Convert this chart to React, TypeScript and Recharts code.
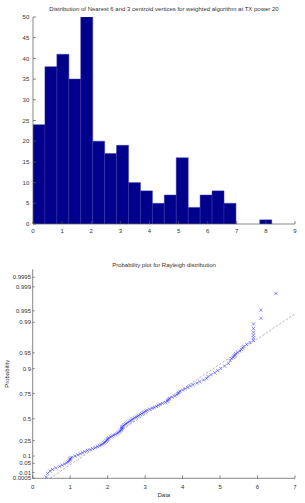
import React from 'react';
import { ComposedChart, Bar, XAxis, YAxis, Scatter, Line } from 'recharts';

// ---------- Histogram data ----------
const binCenters = [0.205, 0.615, 1.025, 1.435, 1.845, 2.255, 2.665, 3.075, 3.485, 3.895, 4.305, 4.715, 5.125, 5.535, 5.945, 6.355, 6.765, 7.175, 7.585, 7.995];
const binCounts = [24, 38, 41, 35, 50, 20, 17, 19, 10, 8, 5, 7, 16, 4, 7, 8, 5, 0, 0, 1];
const histXTicks = [0, 1, 2, 3, 4, 5, 6, 7, 8, 9];
const histYTicks = [0, 5, 10, 15, 20, 25, 30, 35, 40, 45, 50];

// ---------- Probability plot data ----------
const probX = [
  0.36, 0.40, 0.46, 0.53, 0.62, 0.72, 0.79, 0.85, 0.90, 0.94, 0.97, 0.99, 1.00, 1.01, 1.04,
  1.13, 1.21, 1.27, 1.33, 1.39, 1.46, 1.53, 1.60, 1.67, 1.73, 1.79, 1.83, 1.87, 1.90, 1.93,
  1.96, 1.98, 2.00, 2.01, 2.03, 2.08, 2.12, 2.16, 2.20, 2.25, 2.28, 2.31, 2.33, 2.35, 2.37,
  2.38, 2.38, 2.39, 2.40, 2.43, 2.46, 2.49, 2.52, 2.56, 2.59, 2.62, 2.65, 2.68, 2.72, 2.76,
  2.80, 2.83, 2.87, 2.91, 2.95, 2.98, 3.02, 3.06, 3.12, 3.18, 3.24, 3.30, 3.35, 3.40, 3.46,
  3.54, 3.59, 3.61, 3.63, 3.65, 3.72, 3.79, 3.84, 3.88, 3.90, 3.93, 4.00, 4.07, 4.14, 4.21,
  4.28, 4.38, 4.46, 4.56, 4.64, 4.68, 4.76, 4.86, 4.94, 5.02, 5.12, 5.22, 5.27, 5.31, 5.35,
  5.38, 5.40, 5.42, 5.47, 5.53, 5.57, 5.60, 5.63, 5.71, 5.80, 5.89, 5.89, 5.89, 5.89, 5.89,
  5.89, 6.09, 6.09, 6.49,
];
const probP = [
  0.0016, 0.0079, 0.0143, 0.0206, 0.0270, 0.0333, 0.0397, 0.0460, 0.0524, 0.0587, 0.0651, 0.0714, 0.0778, 0.0841, 0.0905,
  0.1000, 0.1095, 0.1190, 0.1286, 0.1381, 0.1476, 0.1571, 0.1667, 0.1762, 0.1857, 0.1952, 0.2048, 0.2143, 0.2238, 0.2333,
  0.2429, 0.2524, 0.2619, 0.2714, 0.2810, 0.2905, 0.3000, 0.3095, 0.3190, 0.3286, 0.3381, 0.3476, 0.3571, 0.3667, 0.3762,
  0.3857, 0.3952, 0.4048, 0.4143, 0.4238, 0.4333, 0.4429, 0.4524, 0.4619, 0.4714, 0.4810, 0.4905, 0.5000, 0.5095, 0.5190,
  0.5286, 0.5381, 0.5476, 0.5571, 0.5667, 0.5762, 0.5857, 0.5952, 0.6048, 0.6143, 0.6238, 0.6333, 0.6429, 0.6524, 0.6619,
  0.6714, 0.6810, 0.6905, 0.7000, 0.7095, 0.7190, 0.7286, 0.7381, 0.7476, 0.7571, 0.7667, 0.7762, 0.7857, 0.7952, 0.8048,
  0.8143, 0.8238, 0.8333, 0.8429, 0.8524, 0.8619, 0.8714, 0.8810, 0.8905, 0.9000, 0.9095, 0.9190, 0.9286, 0.9349, 0.9381,
  0.9413, 0.9444, 0.9476, 0.9508, 0.9540, 0.9571, 0.9603, 0.9635, 0.9667, 0.9698, 0.9730, 0.9762, 0.9794, 0.9825, 0.9857,
  0.9889, 0.9921, 0.9952, 0.9984,
];
const refLineX = [0.46, 7];
const refLineP = [0.0005, 0.994];
const probTickLabels = ['0.0005', '0.01', '0.05', '0.1', '0.25', '0.5', '0.75', '0.9', '0.95', '0.99', '0.995', '0.999', '0.9995'];
const probDomainP = [0.0005, 0.99973];
const probXTicks = [0, 1, 2, 3, 4, 5, 6, 7];

// Rayleigh probability scale transform
const rayleighQ = (p: number) => Math.sqrt(-2 * Math.log(1 - p));

const histData = binCenters.map((c, i) => ({ center: c, count: binCounts[i] }));
const probData = probX.map((x, i) => ({ x, q: rayleighQ(probP[i]) }));
const refData = refLineX.map((x, i) => ({ x, q: rayleighQ(refLineP[i]) }));
const probTickValues = probTickLabels.map((l) => rayleighQ(parseFloat(l)));
const probDomain = probDomainP.map(rayleighQ);

const FONT = '"Liberation Sans", Arial, sans-serif';
const TEXT = '#333';
const AXIS = '#555';
const tickStyle = { fontSize: 6, fill: TEXT, fontFamily: FONT };

const XMark = (props: any) => {
  const { cx, cy } = props;
  if (cx == null || cy == null) return null;
  const r = 1.6;
  return (
    <g stroke="#3c3cff" strokeWidth={0.75} strokeOpacity={0.8}>
      <line x1={cx - r} y1={cy - r} x2={cx + r} y2={cy + r} />
      <line x1={cx - r} y1={cy + r} x2={cx + r} y2={cy - r} />
    </g>
  );
};

const titleStyle: React.CSSProperties = {
  position: 'absolute',
  left: 33,
  width: 262,
  textAlign: 'center',
  fontSize: 6,
  lineHeight: '6px',
  fontFamily: FONT,
  color: TEXT,
  whiteSpace: 'nowrap',
};

export default function App() {
  return (
    <div style={{ position: 'absolute', left: 0, top: 0, width: 305, height: 503, background: '#fff', overflow: 'hidden' }}>
      <div style={{ ...titleStyle, top: 6 }}>
        Distribution of Nearest 6 and 3 centroid vertices for weighted algorithm at TX power 20
      </div>
      <div style={{ position: 'absolute', left: 0, top: 0 }}>
        <ComposedChart
          width={305}
          height={245}
          data={histData}
          margin={{ top: 17, right: 10, bottom: 6, left: 0 }}
          barCategoryGap={0}
          barGap={0}
        >
          <XAxis
            xAxisId="b"
            dataKey="center"
            type="number"
            domain={[0, 9]}
            ticks={histXTicks}
            interval={0}
            height={15}
            tickSize={-3}
            tickMargin={7.8}
            tick={tickStyle}
            stroke={AXIS}
            strokeWidth={0.7}
            allowDataOverflow
          />
          <XAxis
            xAxisId="t"
            orientation="top"
            dataKey="center"
            type="number"
            domain={[0, 9]}
            ticks={histXTicks}
            interval={0}
            height={0}
            tickSize={-3}
            tickFormatter={() => ''}
            stroke={AXIS}
            strokeWidth={0.7}
            allowDataOverflow
          />
          <YAxis
            yAxisId="l"
            type="number"
            domain={[0, 50]}
            ticks={histYTicks}
            interval={0}
            width={33}
            tickSize={-3}
            tickMargin={6.7}
            tick={tickStyle}
            stroke={AXIS}
            strokeWidth={0.7}
            allowDataOverflow
          />
          <YAxis
            yAxisId="r"
            orientation="right"
            type="number"
            domain={[0, 50]}
            ticks={histYTicks}
            interval={0}
            width={0}
            tickSize={-3}
            tickFormatter={() => ''}
            stroke={AXIS}
            strokeWidth={0.7}
            allowDataOverflow
          />
          <Bar
            xAxisId="b"
            yAxisId="l"
            dataKey="count"
            fill="#00008c"
            stroke="#3a3aa8"
            strokeWidth={0.5}
            isAnimationActive={false}
          />
        </ComposedChart>
      </div>

      <div style={{ ...titleStyle, top: 262 }}>Probability plot for Rayleigh distribution</div>
      <div style={{ position: 'absolute', left: 0, top: 250 }}>
        <ComposedChart width={305} height={253} margin={{ top: 19.3, right: 10, bottom: 4.7, left: 0 }}>
          <XAxis
            dataKey="x"
            type="number"
            domain={[0, 7]}
            ticks={probXTicks}
            interval={0}
            height={20}
            tickSize={-3}
            tickMargin={9.2}
            tick={tickStyle}
            stroke={AXIS}
            strokeWidth={0.7}
            allowDataOverflow
            label={{ value: 'Data', position: 'insideBottom', offset: 1, style: { fontSize: 6, fill: TEXT, fontFamily: FONT } }}
          />
          <YAxis
            dataKey="q"
            type="number"
            domain={probDomain}
            ticks={probTickValues}
            interval={0}
            width={32.7}
            tickSize={-2}
            tickMargin={3.7}
            tick={tickStyle}
            stroke={AXIS}
            strokeWidth={0.7}
            allowDataOverflow
            tickFormatter={(v: number) => {
              const i = probTickValues.findIndex((t) => Math.abs(t - v) < 1e-6);
              return i >= 0 ? probTickLabels[i] : '';
            }}
            label={{
              value: 'Probability',
              angle: -90,
              position: 'insideLeft',
              offset: 7,
              style: { fontSize: 6, fill: TEXT, fontFamily: FONT, textAnchor: 'middle' },
            }}
          />
          <Line
            data={refData}
            dataKey="q"
            type="linear"
            stroke="#8a8a8a"
            strokeWidth={0.6}
            strokeDasharray="2.5 1.5"
            dot={false}
            activeDot={false}
            isAnimationActive={false}
          />
          <Scatter data={probData} dataKey="q" shape={XMark} isAnimationActive={false} />
        </ComposedChart>
      </div>
    </div>
  );
}
